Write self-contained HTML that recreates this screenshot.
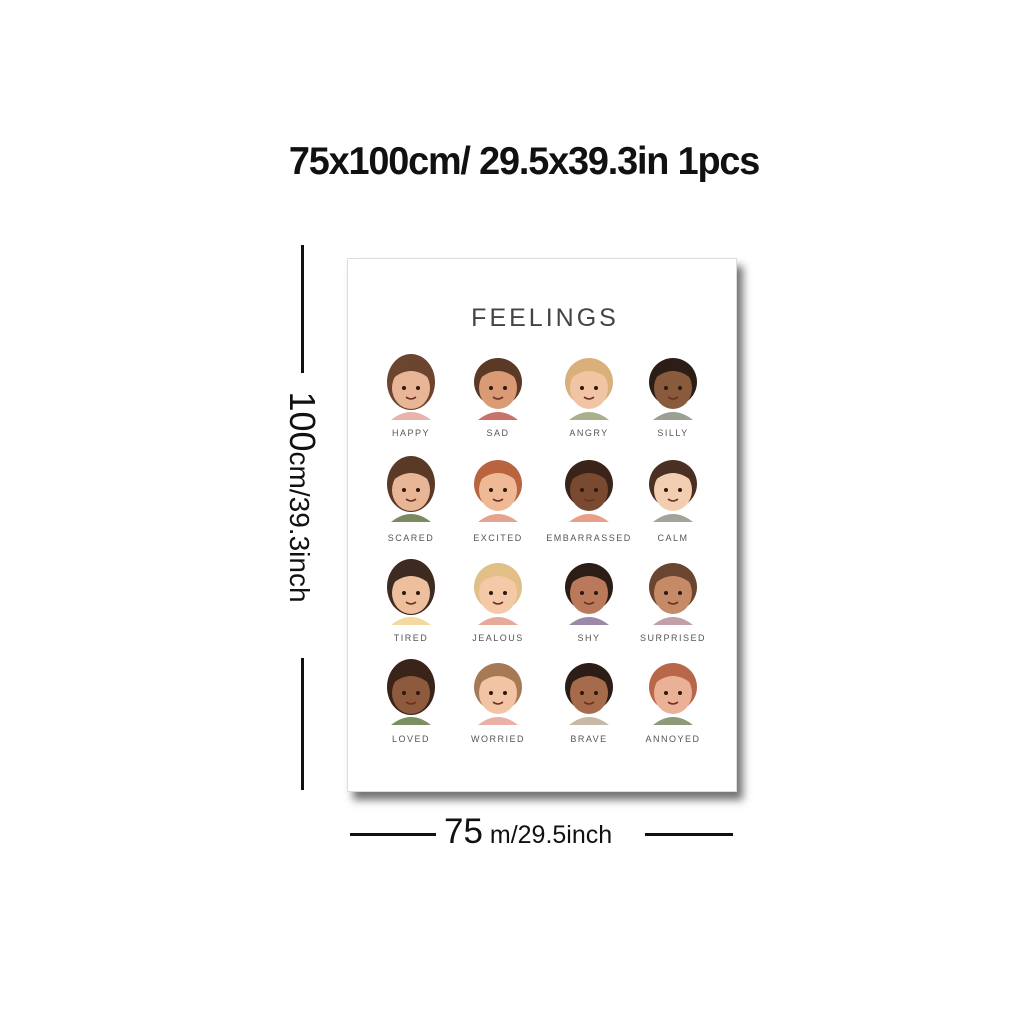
<!DOCTYPE html>
<html><head><meta charset="utf-8"><style>
body{margin:0;width:1024px;height:1024px;background:#fff;position:relative;overflow:hidden;font-family:"Liberation Sans",sans-serif}
.abs{position:absolute}
</style></head><body>
<div class="abs" style="left:0;width:1048px;top:140px;text-align:center;font-size:39px;color:#111;letter-spacing:-1.2px;font-weight:bold;transform:scaleX(0.97)">75x100cm/ 29.5x39.3in 1pcs</div>
<div class="abs" style="left:301px;top:245px;width:3px;height:128px;background:#111"></div>
<div class="abs" style="left:301px;top:658px;width:3px;height:132px;background:#111"></div>
<div class="abs" style="left:302px;top:497px;transform:translate(-50%,-50%) rotate(90deg);font-size:28px;white-space:nowrap;color:#111"><span style="font-size:36px">100</span>cm/39.3inch</div>
<div class="abs" style="left:350px;top:833px;width:86px;height:3px;background:#111"></div>
<div class="abs" style="left:645px;top:833px;width:88px;height:3px;background:#111"></div>
<div class="abs" style="left:444px;top:812px;font-size:25px;white-space:nowrap;color:#111"><span style="font-size:35px">75</span> m/29.5inch</div>
<div class="abs" style="left:347px;top:258px;width:388px;height:532px;background:#fff;border:1px solid #ddd;box-shadow:6px 8px 8px rgba(0,0,0,0.55)">
<div class="abs" style="left:0;width:394px;top:45px;text-align:center;font-size:25px;letter-spacing:3px;color:#444">FEELINGS</div>
<svg id="faces" class="abs" style="left:0;top:0" width="388" height="532"></svg>
</div>
<script>
const labels=["HAPPY","SAD","ANGRY","SILLY","SCARED","EXCITED","EMBARRASSED","CALM","TIRED","JEALOUS","SHY","SURPRISED","LOVED","WORRIED","BRAVE","ANNOYED"];
const skins=["#e9b597","#d99a74","#f1c4a3","#8a5a3c","#e9b597","#f0b995","#7a4a30","#f3cdb0","#eebf9d","#f4c9a8","#b9795a","#c58a66","#8d5a3e","#f3c4a4","#a56b4b","#eab196"];
const hairs=["#6b4530","#5a3a26","#d9b07a","#2c1d16","#5a3a26","#b8643f","#3a2419","#4a3022","#3d2a20","#e1bf86","#2c1d16","#6b4530","#3a2419","#a57a55","#2c1d16","#b8674a"];
const shirts=["#e7b3aa","#c9716b","#a8b08e","#9aa092","#7c8a62","#e5a28d","#e99e8a","#a3a39a","#f3d8a0","#e7a99a","#9a8aa8","#c2a0a8","#7b8f62","#e9b0a8","#c8b8a8","#8d9a7a"];
const cx=[63,150,241,325],cy=[127,229,332,432],ly=[173,278,378,479];
const svg=document.getElementById('faces');const NS='http://www.w3.org/2000/svg';
function mk(t,a){const e=document.createElementNS(NS,t);for(const k in a)e.setAttribute(k,a[k]);svg.appendChild(e);return e;}
labels.forEach((l,i)=>{const x=cx[i%4],y=cy[Math.floor(i/4)];
const s=mk('path',{d:`M${x-20} ${y+34} Q${x} ${y+18} ${x+20} ${y+34} Z`,fill:shirts[i]});

const h=mk('ellipse',{cx:x,cy:y-4,rx:24,ry:i%4==0?28:24,fill:hairs[i]});

const f=mk('ellipse',{cx:x,cy:y+2,rx:19,ry:21,fill:skins[i]});

const b=mk('path',{d:`M${x-20} ${y-6} Q${x} ${y-24} ${x+20} ${y-6} Q${x+18} ${y-22} ${x} ${y-26} Q${x-18} ${y-22} ${x-20} ${y-6}Z`,fill:hairs[i]});

[-7,7].forEach(d=>{const e=mk('circle',{cx:x+d,cy:y+2,r:2,fill:'#2a1a12'});});
const m=mk('path',{d:`M${x-5} ${y+11} Q${x} ${y+15} ${x+5} ${y+11}`,stroke:'#6a3022','stroke-width':1.5,fill:'none'});

const t=mk('text',{x:x,y:ly[Math.floor(i/4)]+4,'text-anchor':'middle','font-size':9,'letter-spacing':1.5,fill:'#555','font-family':'Liberation Sans, sans-serif'});
t.textContent=l;});
</script>
</body></html>
